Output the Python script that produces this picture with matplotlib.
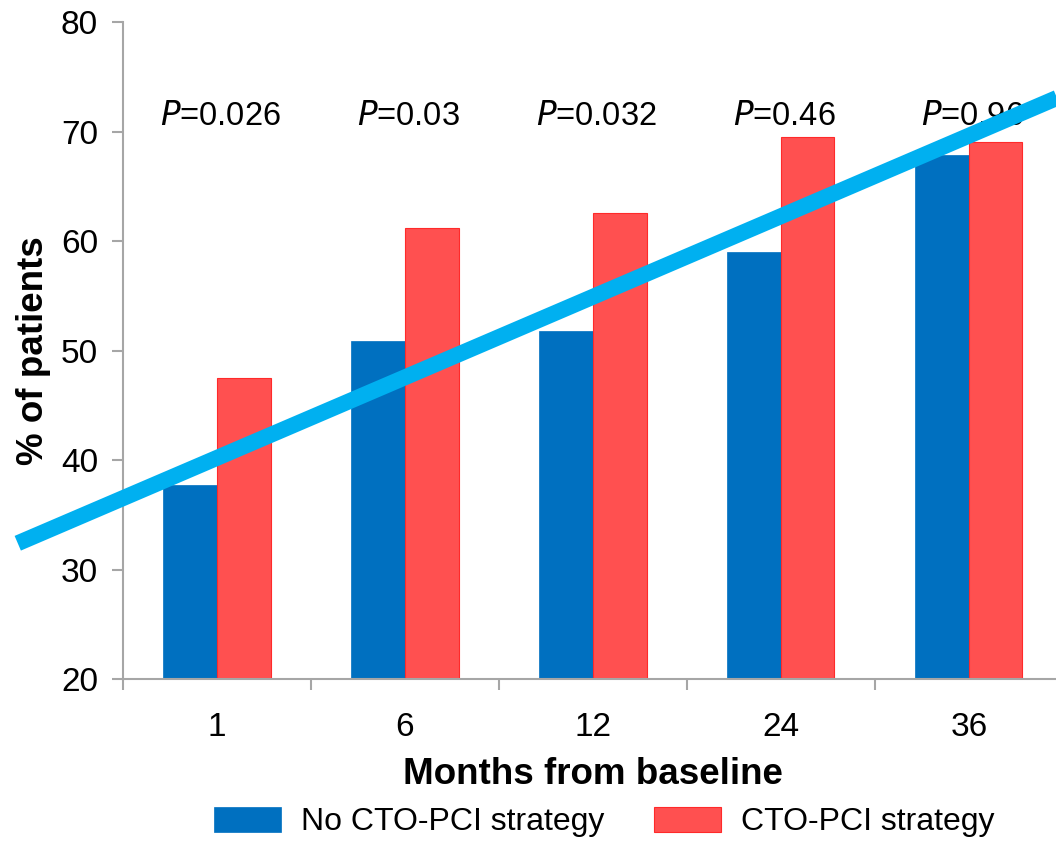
import numpy as np
import matplotlib.pyplot as plt

plt.rcParams['font.family'] = ['Liberation Sans', 'DejaVu Sans']

# --- Dados ---
meses = ['1', '6', '12', '24', '36']
sem_cto = [37.7, 50.9, 51.8, 59.0, 67.9]
com_cto = [47.5, 61.2, 62.6, 69.5, 69.0]
p_valores = ['0.026', '0.03', '0.032', '0.46', '0.96']

# linha de tendência sobreposta (em coordenadas de dados)
tendencia_x = [-1.06, 4.50]
tendencia_y = [32.4, 73.3]

AZUL = '#0070C0'
VERMELHO = '#FF5050'
CIANO = '#00B0F0'
CINZA = '#A6A6A6'

fig = plt.figure(figsize=(10.56, 8.41), dpi=100)
ax = fig.add_axes([0.1165, 0.1926, 0.890, 0.7812])

x = np.arange(len(meses))
largura = 0.285
ax.bar(x - largura / 2, sem_cto, largura, color=AZUL, edgecolor=AZUL,
       linewidth=0.5, label='No CTO-PCI strategy', zorder=2)
ax.bar(x + largura / 2, com_cto, largura, color=VERMELHO, edgecolor='#FF2A2A',
       linewidth=0.8, label='CTO-PCI strategy', zorder=2)

for xi, p in zip(x, p_valores):
    ax.text(xi + 0.02, 71.4, r'$\mathit{P}$=' + p, ha='center', va='center',
            fontsize=23.5, zorder=3)

ax.set_xlim(-0.5, len(meses) - 0.5)
ax.set_ylim(20, 80)
ax.set_yticks(range(20, 81, 10))
ax.set_xticks(x)
ax.set_xticklabels(meses)
ax.set_xticks(np.arange(-0.5, len(meses), 1), minor=True)

for lado in ['top', 'right']:
    ax.spines[lado].set_visible(False)
for lado in ['left', 'bottom']:
    ax.spines[lado].set_color(CINZA)
    ax.spines[lado].set_linewidth(1.5)

ax.tick_params(axis='y', colors=CINZA, labelcolor='black', labelsize=24,
               length=8, width=1.5, pad=10)
ax.tick_params(axis='x', which='major', length=0, labelsize=24, pad=24)
ax.tick_params(axis='x', which='minor', colors=CINZA, length=8, width=1.5)

ax.set_ylabel('% of patients', fontsize=26.5, fontweight='bold', labelpad=7)
ax.set_xlabel('Months from baseline', fontsize=26.5, fontweight='bold', labelpad=10)

ax.plot(tendencia_x, tendencia_y, color=CIANO, linewidth=11.5,
        solid_capstyle='butt', clip_on=False, zorder=5)

fig.legend(loc='lower center', bbox_to_anchor=(0.572, -0.03), ncol=2,
           frameon=False, fontsize=23, handlelength=2.1, handleheight=0.8,
           columnspacing=1.55, handletextpad=0.62)

plt.savefig('out.png', dpi=100)
